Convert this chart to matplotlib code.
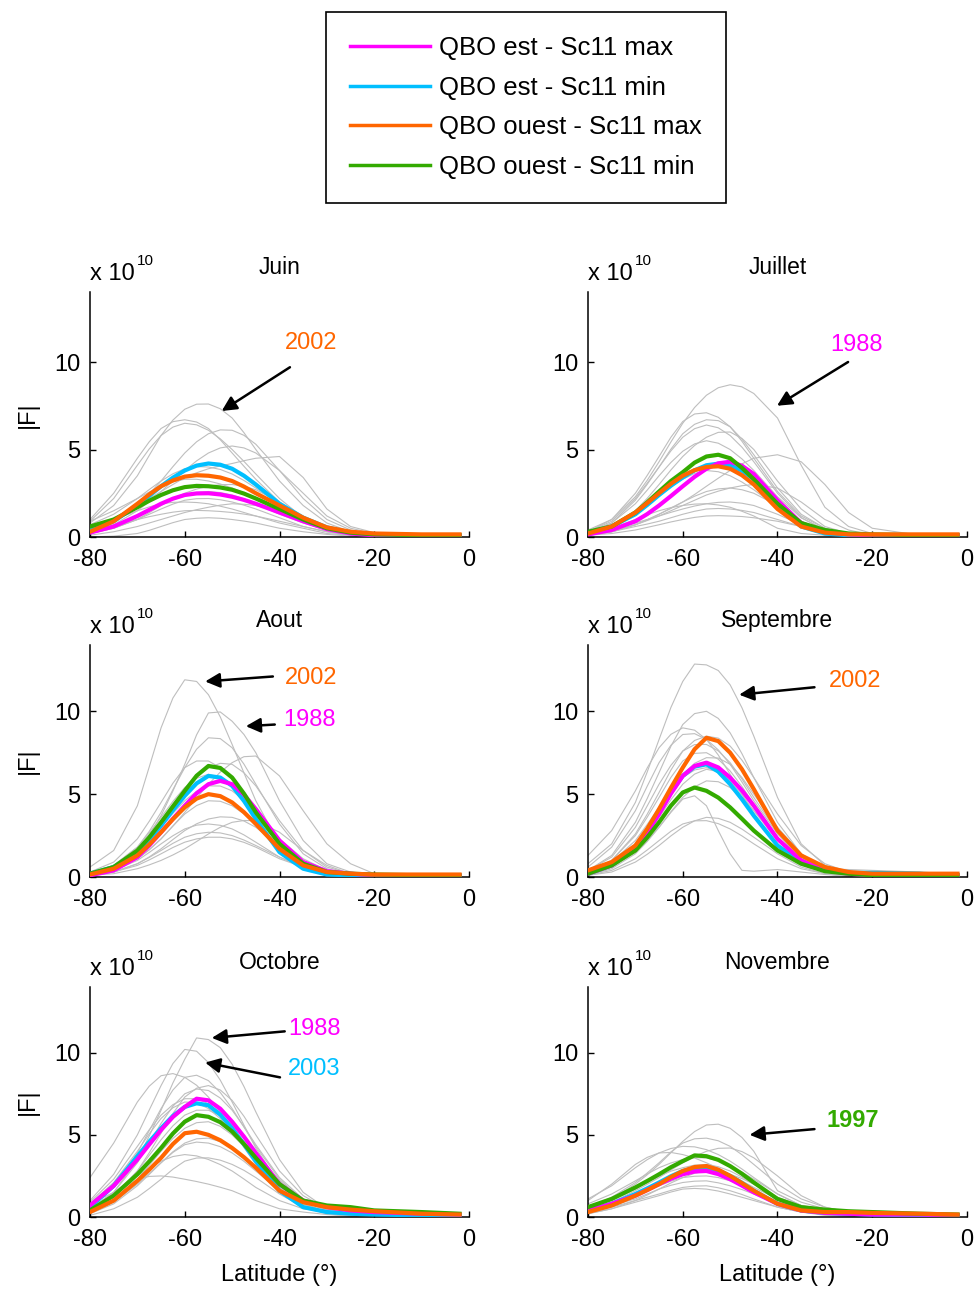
import matplotlib
matplotlib.use('Agg')
import matplotlib.pyplot as plt
from matplotlib.lines import Line2D

plt.rcParams['font.family'] = ['Liberation Sans', 'DejaVu Sans']
plt.rcParams['axes.unicode_minus'] = False

# Grille en latitude (degrés)
lat = [-80, -75, -70, -67.5, -65, -62.5, -60, -57.5, -55, -52.5, -50, -47.5, -45,
       -40, -35, -30, -25, -20, -10, -2]
mois = ['Juin', 'Juillet', 'Aout', 'Septembre', 'Octobre', 'Novembre']

# Composites |F| (x 1e10), une ligne par mois
est_max = [
    [0.25, 0.6, 1.2, 1.55, 1.9, 2.19, 2.4, 2.49, 2.5, 2.43, 2.3, 2.12, 1.9, 1.4, 0.9, 0.45, 0.2, 0.1, 0.08, 0.05],
    [0.15, 0.4, 0.9, 1.31, 1.8, 2.34, 2.9, 3.44, 3.9, 4.21, 4.3, 4.07, 3.6, 2.1, 0.8, 0.3, 0.15, 0.1, 0.1, 0.1],
    [0.1, 0.4, 1.2, 1.9, 2.7, 3.51, 4.3, 5.05, 5.6, 5.8, 5.6, 4.97, 4.1, 2.2, 0.9, 0.35, 0.2, 0.1, 0.1, 0.1],
    [0.2, 0.7, 1.7, 2.67, 3.8, 5.03, 6.1, 6.7, 6.9, 6.61, 6.0, 5.22, 4.3, 2.3, 1.0, 0.4, 0.2, 0.1, 0.1, 0.1],
    [0.7, 1.9, 3.5, 4.41, 5.3, 6.09, 6.7, 7.2, 7.1, 6.59, 5.8, 4.89, 3.9, 2.0, 1.0, 0.6, 0.4, 0.3, 0.2, 0.15],
    [0.4, 0.8, 1.3, 1.64, 2.0, 2.33, 2.6, 2.77, 2.8, 2.61, 2.3, 1.91, 1.5, 0.8, 0.4, 0.25, 0.2, 0.15, 0.15, 0.1],
]
est_min = [
    [0.4, 0.9, 1.8, 2.35, 2.9, 3.39, 3.8, 4.08, 4.2, 4.13, 3.9, 3.5, 3.0, 1.9, 1.1, 0.55, 0.25, 0.15, 0.1, 0.1],
    [0.25, 0.6, 1.3, 1.83, 2.4, 2.93, 3.4, 3.81, 4.1, 4.19, 4.1, 3.79, 3.3, 1.8, 0.6, 0.2, 0.1, 0.1, 0.1, 0.1],
    [0.2, 0.6, 1.5, 2.24, 3.1, 4.03, 4.9, 5.65, 6.1, 6.0, 5.5, 4.59, 3.5, 1.5, 0.5, 0.15, 0.1, 0.1, 0.05, 0.05],
    [0.2, 0.7, 1.8, 2.78, 3.9, 5.09, 6.1, 6.66, 6.8, 6.36, 5.6, 4.69, 3.7, 1.9, 0.9, 0.4, 0.25, 0.25, 0.2, 0.1],
    [0.6, 1.9, 3.7, 4.58, 5.4, 6.15, 6.7, 6.92, 6.8, 6.23, 5.4, 4.43, 3.4, 1.6, 0.6, 0.3, 0.2, 0.15, 0.1, 0.1],
    [0.4, 0.8, 1.4, 1.74, 2.1, 2.48, 2.8, 2.98, 3.0, 2.82, 2.5, 2.07, 1.6, 0.8, 0.4, 0.25, 0.2, 0.15, 0.1, 0.1],
]
ouest_max = [
    [0.3, 0.9, 1.9, 2.43, 2.9, 3.23, 3.45, 3.53, 3.5, 3.4, 3.2, 2.88, 2.5, 1.8, 1.1, 0.55, 0.3, 0.2, 0.15, 0.15],
    [0.2, 0.6, 1.4, 1.94, 2.5, 3.04, 3.5, 3.82, 4.0, 4.04, 3.9, 3.53, 3.0, 1.6, 0.6, 0.25, 0.15, 0.15, 0.15, 0.15],
    [0.15, 0.5, 1.3, 1.96, 2.7, 3.49, 4.2, 4.73, 5.0, 4.88, 4.5, 3.91, 3.2, 1.7, 0.7, 0.3, 0.2, 0.15, 0.15, 0.15],
    [0.4, 0.9, 1.9, 2.91, 4.1, 5.38, 6.6, 7.71, 8.4, 8.2, 7.5, 6.5, 5.3, 2.8, 1.3, 0.6, 0.3, 0.2, 0.2, 0.2],
    [0.3, 1.0, 2.2, 2.88, 3.6, 4.44, 5.1, 5.19, 5.0, 4.67, 4.2, 3.64, 3.0, 1.6, 0.9, 0.6, 0.45, 0.35, 0.2, 0.15],
    [0.3, 0.7, 1.3, 1.64, 2.0, 2.43, 2.8, 3.04, 3.1, 2.88, 2.5, 2.06, 1.6, 0.8, 0.4, 0.3, 0.3, 0.25, 0.2, 0.15],
]
ouest_min = [
    [0.6, 1.0, 1.7, 2.07, 2.4, 2.67, 2.85, 2.92, 2.9, 2.83, 2.7, 2.48, 2.2, 1.6, 1.0, 0.5, 0.25, 0.15, 0.1, 0.1],
    [0.3, 0.6, 1.4, 1.98, 2.6, 3.2, 3.7, 4.25, 4.6, 4.7, 4.5, 3.95, 3.3, 1.9, 0.8, 0.4, 0.2, 0.15, 0.1, 0.1],
    [0.2, 0.6, 1.6, 2.39, 3.3, 4.26, 5.2, 6.11, 6.7, 6.58, 6.0, 5.03, 3.9, 2.0, 0.8, 0.3, 0.2, 0.15, 0.1, 0.1],
    [0.2, 0.7, 1.6, 2.39, 3.3, 4.3, 5.1, 5.4, 5.2, 4.79, 4.2, 3.51, 2.8, 1.6, 0.8, 0.35, 0.2, 0.1, 0.1, 0.1],
    [0.4, 1.3, 2.6, 3.38, 4.2, 5.08, 5.8, 6.2, 6.1, 5.77, 5.2, 4.44, 3.6, 2.0, 1.0, 0.7, 0.6, 0.4, 0.3, 0.2],
    [0.6, 1.1, 1.8, 2.19, 2.6, 3.03, 3.4, 3.75, 3.7, 3.48, 3.1, 2.63, 2.1, 1.1, 0.6, 0.45, 0.35, 0.3, 0.2, 0.15],
]

# Années individuelles (courbes grises)
gris_juin = [
    [0.8, 1.8, 3.5, 4.66, 5.8, 6.68, 7.3, 7.59, 7.6, 7.33, 6.8, 5.96, 5.0, 3.2, 1.8, 0.8, 0.3, 0.15, 0.05, 0],
    [1.0, 2.5, 4.5, 5.44, 6.2, 6.59, 6.7, 6.57, 6.2, 5.56, 4.8, 4.04, 3.3, 2.0, 1.0, 0.4, 0.15, 0.05, 0.02, 0],
    [0.9, 2.2, 4.1, 5.03, 5.8, 6.28, 6.5, 6.41, 6.1, 5.61, 5.0, 4.32, 3.6, 2.2, 1.1, 0.5, 0.2, 0.1, 0.02, 0],
    [0.3, 0.8, 1.8, 2.46, 3.2, 4.02, 4.8, 5.44, 5.9, 6.12, 6.1, 5.81, 5.3, 3.8, 2.2, 1.0, 0.4, 0.15, 0.05, 0],
    [0.3, 0.7, 1.5, 2.03, 2.6, 3.21, 3.8, 4.35, 4.8, 5.09, 5.2, 5.09, 4.8, 3.8, 2.5, 1.2, 0.5, 0.2, 0.05, 0],
    [0.5, 1.0, 1.8, 2.2, 2.6, 3.0, 3.4, 3.67, 3.9, 4.06, 4.2, 4.36, 4.5, 4.6, 3.4, 1.6, 0.6, 0.25, 0.05, 0],
    [0.7, 1.3, 2.2, 2.71, 3.2, 3.61, 3.9, 4.02, 4.0, 3.86, 3.6, 3.23, 2.8, 1.9, 1.1, 0.5, 0.2, 0.1, 0.02, 0],
    [0.9, 1.5, 2.2, 2.57, 2.9, 3.15, 3.3, 3.3, 3.2, 3.03, 2.8, 2.52, 2.2, 1.5, 0.9, 0.4, 0.15, 0.05, 0, 0],
    [0.3, 0.6, 1.2, 1.56, 1.9, 2.18, 2.4, 2.54, 2.6, 2.54, 2.4, 2.18, 1.9, 1.3, 0.8, 0.4, 0.15, 0.05, 0, 0],
    [0.2, 0.5, 1.0, 1.3, 1.6, 1.88, 2.1, 2.19, 2.2, 2.13, 2.0, 1.82, 1.6, 1.1, 0.6, 0.3, 0.1, 0.05, 0, 0],
    [0.1, 0.3, 0.6, 0.8, 1.0, 1.2, 1.4, 1.56, 1.7, 1.82, 1.9, 1.87, 1.8, 1.5, 1.0, 0.5, 0.2, 0.1, 0, 0],
    [0.4, 0.7, 1.0, 1.16, 1.3, 1.42, 1.5, 1.52, 1.5, 1.46, 1.4, 1.31, 1.2, 0.9, 0.6, 0.3, 0.1, 0.05, 0, 0],
    [0.0, 0.05, 0.2, 0.38, 0.6, 0.82, 1.0, 1.07, 1.1, 1.07, 1.0, 0.91, 0.8, 0.5, 0.3, 0.15, 0.05, 0, 0, 0],
    [0.2, 0.5, 1.0, 1.39, 1.8, 2.18, 2.5, 2.74, 2.9, 2.99, 3.0, 2.9, 2.7, 2.0, 1.2, 0.6, 0.25, 0.1, 0, 0],
    [0.6, 1.0, 1.5, 1.72, 1.9, 1.98, 2.0, 1.97, 1.9, 1.76, 1.6, 1.4, 1.2, 0.8, 0.5, 0.2, 0.1, 0, 0, 0],
]
gris_juillet = [
    [0.4, 1.0, 2.3, 3.24, 4.3, 5.43, 6.5, 7.4, 8.1, 8.53, 8.7, 8.58, 8.2, 6.8, 4.1, 1.7, 0.6, 0.2, 0.05, 0],
    [0.3, 1.0, 2.5, 3.52, 4.6, 5.7, 6.6, 7.03, 7.1, 6.84, 6.3, 5.47, 4.5, 2.6, 1.2, 0.5, 0.2, 0.05, 0, 0],
    [0.2, 0.8, 2.1, 3.01, 4.0, 5.02, 5.9, 6.44, 6.7, 6.65, 6.3, 5.59, 4.7, 2.8, 1.3, 0.5, 0.2, 0.05, 0, 0],
    [0.3, 0.9, 2.2, 3.08, 4.0, 4.92, 5.7, 6.19, 6.4, 6.24, 5.8, 5.13, 4.3, 2.5, 1.1, 0.4, 0.15, 0.05, 0, 0],
    [0.2, 0.6, 1.5, 2.21, 3.0, 3.83, 4.6, 5.23, 5.7, 5.98, 6.0, 5.63, 5.0, 3.2, 1.6, 0.6, 0.2, 0.05, 0, 0],
    [0.3, 0.8, 1.9, 2.68, 3.5, 4.26, 4.9, 5.32, 5.5, 5.36, 5.0, 4.46, 3.8, 2.3, 1.1, 0.4, 0.15, 0.05, 0, 0],
    [0.1, 0.3, 0.7, 0.98, 1.3, 1.63, 2.0, 2.43, 2.9, 3.36, 3.8, 4.18, 4.5, 4.7, 4.3, 3.0, 1.4, 0.5, 0.1, 0],
    [0.2, 0.6, 1.3, 1.84, 2.4, 2.89, 3.3, 3.63, 3.8, 3.73, 3.5, 3.14, 2.7, 1.7, 0.8, 0.3, 0.1, 0.05, 0, 0],
    [0.1, 0.3, 0.7, 0.94, 1.2, 1.5, 1.8, 2.1, 2.4, 2.62, 2.8, 2.93, 3.0, 2.8, 2.0, 1.0, 0.4, 0.1, 0, 0],
    [0.1, 0.3, 0.7, 0.98, 1.3, 1.66, 2.0, 2.33, 2.6, 2.75, 2.8, 2.7, 2.5, 1.8, 0.9, 0.3, 0.1, 0, 0, 0],
    [0.2, 0.4, 0.8, 1.0, 1.2, 1.41, 1.6, 1.77, 1.9, 1.98, 2.0, 1.93, 1.8, 1.3, 0.7, 0.3, 0.1, 0, 0, 0],
    [0.1, 0.3, 0.6, 0.74, 0.9, 1.1, 1.3, 1.47, 1.6, 1.63, 1.6, 1.52, 1.4, 1.0, 0.6, 0.3, 0.1, 0, 0, 0],
    [0.1, 0.2, 0.4, 0.55, 0.7, 0.86, 1.0, 1.12, 1.2, 1.22, 1.2, 1.17, 1.1, 0.9, 0.6, 0.3, 0.1, 0, 0, 0],
    [0.2, 0.5, 1.0, 1.27, 1.5, 1.68, 1.8, 1.88, 1.9, 1.83, 1.7, 1.47, 1.2, 0.5, 0.2, 0.1, 0, 0, 0, 0],
]
gris_aout = [
    [0.6, 1.6, 4.3, 6.64, 9.0, 10.8, 11.9, 11.8, 11.0, 9.66, 8.0, 6.28, 4.6, 2.0, 0.8, 0.25, 0.05, 0, 0, 0],
    [0.2, 0.6, 1.6, 2.52, 3.7, 5.19, 6.8, 8.58, 9.9, 9.96, 9.4, 8.6, 7.5, 4.6, 2.2, 0.8, 0.3, 0.1, 0, 0],
    [0.2, 0.7, 1.8, 2.75, 3.9, 5.27, 6.6, 7.71, 8.4, 8.35, 7.8, 6.81, 5.6, 3.2, 1.4, 0.5, 0.15, 0.05, 0, 0],
    [0.1, 0.4, 1.1, 1.64, 2.3, 3.07, 3.9, 4.77, 5.6, 6.33, 6.9, 7.26, 7.3, 6.1, 4.0, 2.0, 0.8, 0.2, 0.05, 0],
    [0.3, 0.9, 2.3, 3.36, 4.5, 5.66, 6.6, 7.0, 7.0, 6.6, 5.9, 4.95, 3.9, 2.0, 0.8, 0.3, 0.1, 0, 0, 0],
    [0.2, 0.6, 1.6, 2.39, 3.3, 4.33, 5.3, 6.06, 6.6, 6.86, 6.8, 6.29, 5.5, 3.4, 1.6, 0.6, 0.2, 0.05, 0, 0],
    [0.2, 0.7, 1.8, 2.66, 3.6, 4.56, 5.4, 5.96, 6.2, 6.0, 5.5, 4.76, 3.9, 2.2, 1.0, 0.4, 0.1, 0, 0, 0],
    [0.2, 0.6, 1.5, 2.21, 3.0, 3.84, 4.6, 5.17, 5.5, 5.49, 5.2, 4.63, 3.9, 2.3, 1.1, 0.4, 0.1, 0, 0, 0],
    [0.1, 0.4, 1.1, 1.65, 2.3, 3.08, 3.8, 4.31, 4.6, 4.57, 4.3, 3.81, 3.2, 1.9, 0.9, 0.3, 0.1, 0, 0, 0],
    [0.1, 0.3, 0.8, 1.21, 1.7, 2.26, 2.8, 3.21, 3.5, 3.63, 3.6, 3.38, 3.0, 1.9, 0.9, 0.35, 0.1, 0, 0, 0],
    [0.1, 0.2, 0.5, 0.73, 1.0, 1.33, 1.7, 2.14, 2.6, 3.0, 3.3, 3.41, 3.4, 2.7, 1.6, 0.7, 0.2, 0.05, 0, 0],
    [0.1, 0.4, 1.0, 1.48, 2.0, 2.49, 2.9, 3.13, 3.2, 3.12, 2.9, 2.54, 2.1, 1.2, 0.6, 0.2, 0.05, 0, 0, 0],
    [0.1, 0.3, 0.8, 1.18, 1.6, 2.03, 2.4, 2.61, 2.7, 2.66, 2.5, 2.23, 1.9, 1.2, 0.6, 0.2, 0.05, 0, 0, 0],
    [0.1, 0.3, 0.7, 1.03, 1.4, 1.78, 2.1, 2.3, 2.4, 2.4, 2.3, 2.09, 1.8, 1.1, 0.6, 0.2, 0.05, 0, 0, 0],
]
gris_septembre = [
    [0.8, 2.0, 4.5, 6.34, 8.3, 10.23, 11.8, 12.85, 12.8, 12.46, 11.6, 10.21, 8.5, 4.8, 2.0, 0.7, 0.2, 0.05, 0, 0],
    [0.4, 1.3, 3.3, 4.74, 6.3, 7.89, 9.2, 9.86, 10.0, 9.57, 8.7, 7.44, 6.0, 3.3, 1.4, 0.5, 0.15, 0, 0, 0],
    [1.3, 2.8, 5.2, 6.58, 7.8, 8.61, 9.0, 8.86, 8.3, 7.36, 6.2, 4.99, 3.8, 1.9, 0.8, 0.3, 0.1, 0, 0, 0],
    [0.6, 1.8, 4.0, 5.48, 6.9, 7.95, 8.6, 8.65, 8.3, 7.67, 6.8, 5.73, 4.6, 2.6, 1.1, 0.4, 0.1, 0, 0, 0],
    [0.3, 1.0, 2.6, 3.79, 5.1, 6.45, 7.6, 8.24, 8.5, 8.38, 7.9, 7.05, 6.0, 3.8, 1.9, 0.8, 0.3, 0.1, 0, 0],
    [0.4, 1.2, 3.0, 4.29, 5.6, 6.74, 7.6, 7.99, 8.0, 7.61, 6.9, 5.91, 4.8, 2.7, 1.2, 0.4, 0.1, 0, 0, 0],
    [0.3, 1.0, 2.5, 3.61, 4.8, 6.01, 7.0, 7.46, 7.5, 7.11, 6.4, 5.46, 4.4, 2.4, 1.0, 0.4, 0.1, 0, 0, 0],
    [0.2, 0.8, 2.0, 2.94, 4.0, 5.16, 6.2, 6.86, 7.2, 7.18, 6.8, 6.0, 5.0, 3.0, 1.4, 0.5, 0.15, 0, 0, 0],
    [0.2, 0.7, 1.8, 2.64, 3.6, 4.66, 5.6, 6.21, 6.5, 6.36, 5.9, 5.13, 4.2, 2.4, 1.1, 0.4, 0.1, 0, 0, 0],
    [0.1, 0.5, 1.4, 2.14, 3.0, 3.94, 4.8, 5.44, 5.8, 5.75, 5.4, 4.78, 4.0, 2.4, 1.1, 0.4, 0.1, 0, 0, 0],
    [0.2, 0.6, 1.5, 2.2, 3.0, 3.9, 4.7, 4.9, 4.3, 2.8, 1.4, 0.4, 0.35, 0.45, 0.3, 0.15, 0.05, 0, 0, 0],
    [0.1, 0.3, 0.9, 1.37, 1.9, 2.48, 3.0, 3.39, 3.6, 3.54, 3.3, 2.89, 2.4, 1.4, 0.6, 0.2, 0.05, 0, 0, 0],
    [0.1, 0.4, 1.1, 1.63, 2.2, 2.76, 3.2, 3.39, 3.4, 3.22, 2.9, 2.48, 2.0, 1.1, 0.5, 0.2, 0.05, 0, 0, 0],
    [0.3, 0.9, 2.2, 3.17, 4.2, 5.19, 6.0, 6.46, 6.6, 6.35, 5.8, 4.96, 4.0, 2.2, 1.0, 0.5, 0.45, 0.4, 0.3, 0],
]
gris_octobre = [
    [0.5, 1.5, 3.5, 4.93, 6.5, 8.16, 9.6, 10.9, 10.8, 10.31, 9.3, 7.94, 6.4, 3.5, 1.5, 0.5, 0.15, 0, 0, 0],
    [1.0, 2.6, 5.0, 6.51, 8.0, 9.34, 10.2, 10.09, 9.4, 8.33, 7.0, 5.59, 4.2, 2.0, 0.8, 0.3, 0.1, 0, 0, 0],
    [2.4, 4.5, 7.0, 7.96, 8.6, 8.73, 8.5, 8.02, 7.3, 6.36, 5.3, 4.23, 3.2, 1.6, 0.7, 0.3, 0.1, 0, 0, 0],
    [0.6, 1.8, 3.9, 5.26, 6.6, 7.73, 8.5, 8.63, 8.3, 7.58, 6.6, 5.47, 4.3, 2.3, 1.0, 0.4, 0.1, 0, 0, 0],
    [0.4, 1.2, 2.8, 3.91, 5.1, 6.3, 7.3, 7.84, 8.0, 7.73, 7.1, 6.13, 5.0, 2.8, 1.3, 0.5, 0.15, 0, 0, 0],
    [0.5, 1.5, 3.3, 4.5, 5.7, 6.74, 7.5, 7.79, 7.7, 7.24, 6.5, 5.5, 4.4, 2.4, 1.1, 0.4, 0.1, 0, 0, 0],
    [0.8, 2.1, 4.0, 5.06, 6.0, 6.65, 7.0, 6.95, 6.6, 5.99, 5.2, 4.31, 3.4, 1.8, 0.8, 0.3, 0.1, 0, 0, 0],
    [0.4, 1.3, 2.8, 3.75, 4.7, 5.55, 6.2, 6.5, 6.5, 6.18, 5.6, 4.8, 3.9, 2.2, 1.0, 0.4, 0.1, 0, 0, 0],
    [0.3, 1.0, 2.3, 3.14, 4.0, 4.78, 5.4, 5.74, 5.8, 5.52, 5.0, 4.29, 3.5, 2.0, 0.9, 0.4, 0.1, 0, 0, 0],
    [0.2, 0.8, 1.9, 2.59, 3.3, 3.97, 4.5, 4.76, 4.8, 4.59, 4.2, 3.64, 3.0, 1.7, 0.8, 0.3, 0.1, 0, 0, 0],
    [0.3, 0.9, 2.0, 2.65, 3.3, 3.93, 4.4, 4.56, 4.5, 4.28, 3.9, 3.39, 2.8, 1.6, 0.8, 0.3, 0.1, 0, 0, 0],
    [0.1, 0.5, 1.2, 1.73, 2.3, 2.91, 3.4, 3.59, 3.6, 3.46, 3.2, 2.84, 2.4, 1.4, 0.6, 0.2, 0.05, 0, 0, 0],
    [0.6, 1.4, 2.3, 2.47, 2.5, 2.43, 2.3, 2.16, 2.0, 1.81, 1.6, 1.3, 1.0, 0.5, 0.3, 0.15, 0.05, 0, 0, 0],
    [0.8, 1.5, 2.5, 2.99, 3.4, 3.68, 3.8, 3.72, 3.5, 3.19, 2.8, 2.31, 1.8, 1.0, 0.5, 0.3, 0.2, 0.15, 0.1, 0],
    [0.9, 2.3, 4.3, 5.31, 6.2, 6.84, 7.2, 7.2, 6.9, 6.3, 5.5, 4.57, 3.6, 1.9, 0.9, 0.55, 0.45, 0.35, 0.2, 0],
]
gris_novembre = [
    [0.5, 1.1, 2.0, 2.57, 3.2, 3.91, 4.6, 5.2, 5.6, 5.65, 5.4, 4.84, 4.0, 1.6, 0.9, 0.5, 0.3, 0.1, 0, 0],
    [0.6, 1.2, 2.1, 2.68, 3.3, 3.96, 4.5, 4.76, 4.8, 4.64, 4.3, 3.79, 3.2, 2.0, 1.1, 0.6, 0.3, 0.1, 0, 0],
    [1.1, 1.9, 3.0, 3.49, 3.9, 4.17, 4.3, 4.27, 4.1, 3.8, 3.4, 2.92, 2.4, 1.4, 0.7, 0.4, 0.2, 0.1, 0, 0],
    [0.4, 0.9, 1.6, 1.99, 2.4, 2.86, 3.3, 3.69, 4.0, 4.18, 4.2, 3.98, 3.6, 2.5, 1.3, 0.6, 0.3, 0.1, 0, 0],
    [1.0, 2.0, 3.2, 3.63, 3.9, 3.93, 3.8, 3.59, 3.3, 2.97, 2.6, 2.2, 1.8, 1.1, 0.6, 0.3, 0.1, 0, 0, 0],
    [0.8, 1.4, 2.2, 2.62, 3.0, 3.29, 3.5, 3.61, 3.6, 3.41, 3.1, 2.73, 2.3, 1.4, 0.7, 0.3, 0.1, 0, 0, 0],
    [0.5, 1.0, 1.7, 2.11, 2.5, 2.79, 3.0, 3.16, 3.2, 3.06, 2.8, 2.43, 2.0, 1.2, 0.6, 0.3, 0.1, 0, 0, 0],
    [0.4, 0.8, 1.3, 1.6, 1.9, 2.18, 2.4, 2.48, 2.5, 2.4, 2.2, 1.92, 1.6, 0.9, 0.5, 0.2, 0.1, 0, 0, 0],
    [0.3, 0.7, 1.1, 1.4, 1.7, 1.93, 2.1, 2.18, 2.2, 2.08, 1.9, 1.67, 1.4, 0.8, 0.4, 0.2, 0.1, 0, 0, 0],
    [0.3, 0.6, 1.0, 1.2, 1.4, 1.62, 1.8, 1.88, 1.9, 1.78, 1.6, 1.37, 1.1, 0.6, 0.3, 0.15, 0.05, 0, 0, 0],
    [0.2, 0.5, 0.9, 1.1, 1.3, 1.52, 1.7, 1.74, 1.7, 1.58, 1.4, 1.2, 1.0, 0.6, 0.3, 0.1, 0.05, 0, 0, 0],
    [0.2, 0.5, 1.0, 1.34, 1.7, 2.07, 2.4, 2.66, 2.8, 2.76, 2.6, 2.34, 2.0, 1.2, 0.7, 0.5, 0.4, 0.3, 0.2, 0],
]
gris = [gris_juin, gris_juillet, gris_aout, gris_septembre, gris_octobre, gris_novembre]

c_est_max = '#FF00FF'
c_est_min = '#00BFFF'
c_ouest_max = '#FF6600'
c_ouest_min = '#33AA00'
c_gris = '#BEBEBE'

# Annotations : (panneau, année, couleur, gras, position texte, début flèche, pointe flèche)
annotations = [
    (0, '2002', c_ouest_max, False, (-33.4, 11.1), (-37.8, 9.7), (-52.2, 7.2)),
    (1, '1988', c_est_max, False, (-23.3, 11.0), (-25.1, 10.0), (-40.1, 7.5)),
    (2, '2002', c_ouest_max, False, (-33.4, 12.0), (-41.4, 12.1), (-55.7, 11.8)),
    (2, '1988', c_est_max, False, (-33.6, 9.5), (-41.0, 9.2), (-47.1, 9.1)),
    (3, '2002', c_ouest_max, False, (-23.6, 11.8), (-32.2, 11.45), (-48.1, 11.0)),
    (4, '1988', c_est_max, False, (-32.7, 11.45), (-38.9, 11.3), (-54.3, 10.9)),
    (4, '2003', c_est_min, False, (-32.7, 9.0), (-39.9, 8.5), (-55.7, 9.4)),
    (5, '1997', c_ouest_min, True, (-24.1, 5.9), (-32.2, 5.35), (-45.9, 5.0)),
]

W, H = 978, 1289
fig = plt.figure(figsize=(W / 100, H / 100), dpi=100)

# positions des axes en pixels
colonnes = [90, 588]
lignes = [(292, 537), (645, 877), (987, 1217)]
largeur = 379

axes = []
for i in range(6):
    r, c = divmod(i, 2)
    haut, bas = lignes[r]
    hauteur = bas - haut
    ax = fig.add_axes([colonnes[c] / W, 1 - bas / H, largeur / W, hauteur / H])
    axes.append(ax)

    for courbe in gris[i]:
        ax.plot(lat, courbe, color=c_gris, lw=0.8, zorder=1)
    ax.plot(lat, est_min[i], color=c_est_min, lw=3, zorder=3)
    ax.plot(lat, est_max[i], color=c_est_max, lw=3, zorder=3)
    ax.plot(lat, ouest_min[i], color=c_ouest_min, lw=3, zorder=3)
    ax.plot(lat, ouest_max[i], color=c_ouest_max, lw=3, zorder=3)

    ax.set_xlim(-80, 0)
    ax.set_ylim(0, 14)
    ax.set_xticks([-80, -60, -40, -20, 0])
    ax.set_yticks([0, 5, 10])
    ax.spines['top'].set_visible(False)
    ax.spines['right'].set_visible(False)
    for s in ['left', 'bottom']:
        ax.spines[s].set_linewidth(1.1)
    ax.tick_params(direction='in', length=4, width=1, labelsize=17)
    ax.tick_params(axis='x', pad=9)
    ax.tick_params(axis='y', pad=7)
    ax.set_title(mois[i], fontsize=16.5, pad=13)

    # facteur d'échelle façon MATLAB
    ax.text(0, 1 + 12 / hauteur, 'x 10', transform=ax.transAxes,
            ha='left', va='baseline', fontsize=17)
    ax.text(47 / largeur, 1 + 27 / hauteur, '10', transform=ax.transAxes,
            ha='left', va='baseline', fontsize=11)

    if c == 0:
        ax.text(-62 / largeur, 0.5, '|F|', transform=ax.transAxes, rotation=90,
                ha='center', va='center', fontsize=17)
    if r == 2:
        ax.text(0.5, -58 / hauteur, 'Latitude (°)', transform=ax.transAxes,
                ha='center', va='center', fontsize=17)

for idx, annee, coul, gras, pos_txt, debut, pointe in annotations:
    ax = axes[idx]
    ax.annotate('', xy=pointe, xytext=debut,
                arrowprops=dict(arrowstyle='-|>', color='black', lw=1.8,
                                mutation_scale=22, shrinkA=0, shrinkB=0))
    ax.text(pos_txt[0], pos_txt[1], annee, color=coul, fontsize=17,
            fontweight='bold' if gras else 'normal', ha='center', va='center')

# légende commune
handles = [Line2D([], [], color=c_est_max, lw=2.5),
           Line2D([], [], color=c_est_min, lw=2.5),
           Line2D([], [], color=c_ouest_max, lw=2.5),
           Line2D([], [], color=c_ouest_min, lw=2.5)]
labels = ['QBO est - Sc11 max', 'QBO est - Sc11 min',
          'QBO ouest - Sc11 max', 'QBO ouest - Sc11 min']
leg = fig.legend(handles, labels, loc='upper left',
                 bbox_to_anchor=(326 / W, 1 - 12 / H), fontsize=18.5,
                 frameon=True, fancybox=False, edgecolor='black', framealpha=1,
                 handlelength=3.1, handletextpad=0.35, labelspacing=0.6,
                 borderpad=0.95, borderaxespad=0)
leg.get_frame().set_linewidth(1.2)

fig.savefig('out.png', dpi=100)
